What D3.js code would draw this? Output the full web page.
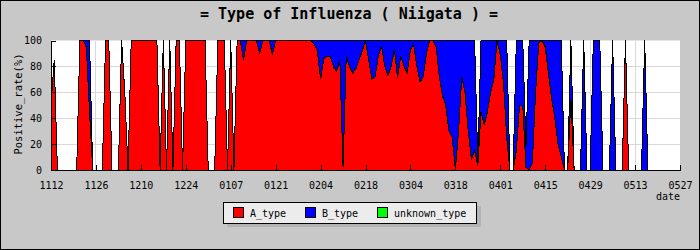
<!DOCTYPE html>
<html>
<head>
<meta charset="utf-8">
<script src="https://cdn.jsdelivr.net/npm/d3@7"></script>
<style>
  body { margin: 0; background: #c8c8c8; }
  svg { display: block; }
  text { font-family: "DejaVu Sans Mono", monospace; }
</style>
</head>
<body>
<div id="chart"></div>
<script>
// first day of the series, one value per day after it
var startDay = "2008-11-12";

// positive rate (%) of type A, one row = two weeks
var aType = [
  50, 85, 0, 0, 0, 0, 0, 0, 0, 100, 100, 95, 45, 0,
  0, 0, 0, 100, 100, 0, 0, 0, 100, 60, 0, 100, 100, 100,
  100, 100, 100, 100, 100, 100, 0, 100, 0, 100, 0, 100, 100, 0,
  100, 100, 100, 100, 100, 100, 100, 0, 0, 0, 100, 100, 100, 0,
  100, 0, 100, 100, 85, 100, 100, 100, 100, 90, 100, 100, 100, 89,
  100, 100, 100, 100, 100, 100, 100, 100, 100, 100, 100, 100, 97, 92,
  70, 86, 88, 88, 80, 76, 85, 2, 88, 80, 75, 78, 85, 92,
  100, 85, 70, 72, 88, 96, 80, 73, 80, 93, 71, 88, 80, 75,
  93, 97, 80, 68, 72, 90, 100, 100, 95, 72, 57, 50, 30, 25,
  0, 30, 72, 60, 30, 8, 15, 3, 45, 35, 45, 60, 70, 100,
  89, 67, 25, 0, 0, 15, 50, 50, 2, 0, 5, 60, 98, 100,
  95, 75, 55, 40, 20, 10, 0, 0, 55, 0, 0, 0, 0, 0,
  0, 0, 0, 0, 0, 0, 0, 0, 0, 0, 0, 100, 0, 0,
  0, 0, 0, 0, 0, 0, 0, 0, 0, 0, 0, 0, 0, 0,
  0
];

// positive rate (%) of type B
var bType = [
  0, 0, 0, 0, 0, 0, 0, 0, 0, 0, 0, 5, 55, 0,
  0, 0, 0, 0, 0, 0, 0, 0, 0, 0, 0, 0, 0, 0,
  0, 0, 0, 0, 0, 0, 0, 0, 0, 0, 0, 0, 0, 0,
  0, 0, 0, 0, 0, 0, 0, 0, 0, 0, 0, 0, 0, 0,
  0, 0, 0, 0, 15, 0, 0, 0, 0, 10, 0, 0, 0, 11,
  0, 0, 0, 0, 0, 0, 0, 0, 0, 0, 0, 0, 3, 8,
  30, 14, 12, 12, 20, 24, 15, 98, 12, 20, 25, 22, 15, 8,
  0, 15, 30, 28, 12, 4, 20, 27, 20, 7, 29, 12, 20, 25,
  7, 3, 20, 32, 28, 10, 0, 0, 5, 28, 43, 50, 70, 75,
  100, 70, 28, 40, 70, 92, 85, 3, 55, 65, 55, 40, 30, 0,
  11, 33, 75, 0, 0, 85, 50, 50, 16, 100, 95, 40, 2, 0,
  5, 25, 45, 60, 80, 90, 0, 0, 45, 0, 0, 0, 100, 0,
  0, 100, 100, 100, 0, 0, 0, 100, 0, 0, 0, 0, 0, 0,
  0, 0, 0, 100, 0, 0, 0, 0, 0, 0, 0, 0, 0, 0,
  0
];

// unknown type, never reported in this season
var unknownType = [
  0, 0, 0, 0, 0, 0, 0, 0, 0, 0, 0, 0, 0, 0,
  0, 0, 0, 0, 0, 0, 0, 0, 0, 0, 0, 0, 0, 0,
  0, 0, 0, 0, 0, 0, 0, 0, 0, 0, 0, 0, 0, 0,
  0, 0, 0, 0, 0, 0, 0, 0, 0, 0, 0, 0, 0, 0,
  0, 0, 0, 0, 0, 0, 0, 0, 0, 0, 0, 0, 0, 0,
  0, 0, 0, 0, 0, 0, 0, 0, 0, 0, 0, 0, 0, 0,
  0, 0, 0, 0, 0, 0, 0, 0, 0, 0, 0, 0, 0, 0,
  0, 0, 0, 0, 0, 0, 0, 0, 0, 0, 0, 0, 0, 0,
  0, 0, 0, 0, 0, 0, 0, 0, 0, 0, 0, 0, 0, 0,
  0, 0, 0, 0, 0, 0, 0, 0, 0, 0, 0, 0, 0, 0,
  0, 0, 0, 0, 0, 0, 0, 0, 0, 0, 0, 0, 0, 0,
  0, 0, 0, 0, 0, 0, 0, 0, 0, 0, 0, 0, 0, 0,
  0, 0, 0, 0, 0, 0, 0, 0, 0, 0, 0, 0, 0, 0,
  0, 0, 0, 0, 0, 0, 0, 0, 0, 0, 0, 0, 0, 0,
  0
];

var tickLabels = ["1112", "1126", "1210", "1224", "0107", "0121", "0204", "0218",
                  "0304", "0318", "0401", "0415", "0429", "0513", "0527"];
var yTicks = [0, 20, 40, 60, 80, 100];
var seriesNames = ["A_type", "B_type", "unknown_type"];
var seriesColors = ["#ff0000", "#0000ff", "#00ff00"];

var W = 700, H = 250;
var plot = {left: 51, right: 680, top: 40.5, bottom: 170};

var svg = d3.select("#chart").append("svg")
    .attr("width", W)
    .attr("height", H);

// gray background with black frame
svg.append("rect")
    .attr("x", 0.5).attr("y", 0.5)
    .attr("width", W - 1).attr("height", H - 1)
    .attr("fill", "#c8c8c8")
    .attr("stroke", "#000");

// build the rows
var start = d3.timeParse("%Y-%m-%d")(startDay);
var rows = aType.map(function(a, i) {
    return {date: d3.timeDay.offset(start, i), A_type: a, B_type: bType[i], unknown_type: unknownType[i]};
});
var parseTick = d3.timeParse("%Y%m%d");
var tickDates = tickLabels.map(function(t) {
    return parseTick((+t.slice(0, 2) >= 11 ? "2008" : "2009") + t);
});

var x = d3.scaleTime()
    .domain([tickDates[0], tickDates[tickDates.length - 1]])
    .range([plot.left, plot.right]);
var y = d3.scaleLinear()
    .domain([0, 100])
    .range([plot.bottom, plot.top]);

// title
svg.append("text")
    .attr("x", 349).attr("y", 19)
    .attr("text-anchor", "middle")
    .attr("font-size", 15)
    .attr("font-weight", "bold")
    .text("= Type of Influenza ( Niigata ) =");

// plot area
svg.append("rect")
    .attr("x", plot.left).attr("y", plot.top)
    .attr("width", plot.right - plot.left)
    .attr("height", plot.bottom - plot.top)
    .attr("fill", "#fff");

// grid
var grid = svg.append("g")
    .attr("stroke", "#d8d8d8")
    .attr("shape-rendering", "crispEdges");
grid.selectAll(".gy").data(yTicks.slice(1, -1)).enter().append("line")
    .attr("x1", plot.left).attr("x2", plot.right)
    .attr("y1", function(d) { return y(d); })
    .attr("y2", function(d) { return y(d); });
grid.selectAll(".gx").data(tickDates.slice(1, -1)).enter().append("line")
    .attr("y1", plot.top).attr("y2", plot.bottom)
    .attr("x1", function(d) { return x(d); })
    .attr("x2", function(d) { return x(d); });

// stacked areas
var stack = d3.stack().keys(seriesNames);
var layers = stack(rows);

var area = d3.area()
    .x(function(d) { return x(d.data.date); })
    .y0(function(d) { return y(d[0]); })
    .y1(function(d) { return y(d[1]); });

var line = d3.line()
    .x(function(d) { return x(d.data.date); })
    .y(function(d) { return y(d[1]); });

svg.append("g").selectAll("path")
    .data(layers).enter().append("path")
    .attr("d", area)
    .attr("fill", function(d, i) { return seriesColors[i]; })
    .attr("shape-rendering", "crispEdges");

svg.append("g").selectAll("path")
    .data(layers).enter().append("path")
    .attr("d", line)
    .attr("fill", "none")
    .attr("stroke", "#000")
    .attr("stroke-width", 1)
    .attr("shape-rendering", "crispEdges");

// axes, ticks pointing inside
var yAxis = svg.append("g")
    .attr("transform", "translate(" + plot.left + ",0)")
    .call(d3.axisLeft(y).tickValues(yTicks).tickSizeInner(-5).tickSizeOuter(0).tickPadding(9));

var xAxis = svg.append("g")
    .attr("transform", "translate(0," + plot.bottom + ")")
    .call(d3.axisBottom(x).tickValues(tickDates)
        .tickFormat(function(d, i) { return tickLabels[i]; })
        .tickSizeInner(-5).tickSizeOuter(0).tickPadding(12));

[yAxis, xAxis].forEach(function(g) {
    g.attr("font-family", "DejaVu Sans Mono, monospace")
     .attr("font-size", 10)
     .attr("shape-rendering", "crispEdges");
    g.selectAll("text").attr("fill", "#000");
    g.selectAll("line, path").attr("stroke", "#000");
});

// axis titles
svg.append("text")
    .attr("x", 680).attr("y", 200)
    .attr("text-anchor", "end")
    .attr("font-size", 10)
    .text("date");

svg.append("text")
    .attr("transform", "translate(22,104) rotate(-90)")
    .attr("text-anchor", "middle")
    .attr("font-size", 10.5)
    .text("Positive_rate(%)");

// legend
var legend = svg.append("g").attr("shape-rendering", "crispEdges");
legend.append("rect")
    .attr("x", 227).attr("y", 206)
    .attr("width", 254).attr("height", 21)
    .attr("fill", "#b4b4b4");
legend.append("rect")
    .attr("x", 223.5).attr("y", 202.5)
    .attr("width", 253).attr("height", 21)
    .attr("fill", "#ececec")
    .attr("stroke", "#000");

var items = legend.selectAll(".item")
    .data(seriesNames).enter().append("g")
    .attr("transform", function(d, i) { return "translate(" + (233 + i * 72) + ",207)"; });
items.append("rect")
    .attr("x", 0.5).attr("y", 0.5)
    .attr("width", 10).attr("height", 10)
    .attr("fill", function(d, i) { return seriesColors[i]; })
    .attr("stroke", "#000");
items.append("text")
    .attr("x", 17).attr("y", 9.5)
    .attr("font-size", 10)
    .text(function(d) { return d; });
</script>
</body>
</html>
